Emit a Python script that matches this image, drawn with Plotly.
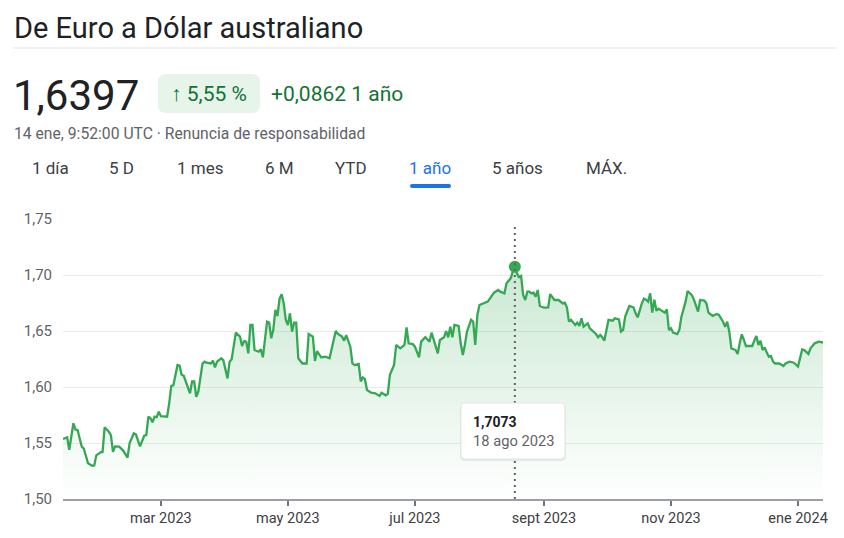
import plotly.graph_objects as go

# EUR -> AUD, one year of closes
dates = [
    "2023-01-13", "2023-01-15", "2023-01-16", "2023-01-18", "2023-01-19", "2023-01-20",
    "2023-01-22", "2023-01-23", "2023-01-25", "2023-01-27", "2023-01-28", "2023-01-29",
    "2023-01-31", "2023-02-01", "2023-02-02", "2023-02-04", "2023-02-05", "2023-02-06",
    "2023-02-07", "2023-02-09", "2023-02-11", "2023-02-13", "2023-02-14", "2023-02-16",
    "2023-02-17", "2023-02-19", "2023-02-21", "2023-02-22", "2023-02-23", "2023-02-24",
    "2023-02-25", "2023-02-26", "2023-02-27", "2023-02-28", "2023-03-01", "2023-03-04",
    "2023-03-05", "2023-03-06", "2023-03-07", "2023-03-09", "2023-03-10", "2023-03-11",
    "2023-03-12", "2023-03-13", "2023-03-15", "2023-03-16", "2023-03-17", "2023-03-18",
    "2023-03-19", "2023-03-21", "2023-03-22", "2023-03-23", "2023-03-25", "2023-03-26",
    "2023-03-27", "2023-03-28", "2023-03-30", "2023-03-31", "2023-04-02", "2023-04-03",
    "2023-04-04", "2023-04-06", "2023-04-08", "2023-04-09", "2023-04-10", "2023-04-11",
    "2023-04-12", "2023-04-13", "2023-04-14", "2023-04-15", "2023-04-17", "2023-04-18",
    "2023-04-19", "2023-04-21", "2023-04-22", "2023-04-23", "2023-04-24", "2023-04-25",
    "2023-04-26", "2023-04-27", "2023-04-28", "2023-04-29", "2023-04-30", "2023-05-01",
    "2023-05-02", "2023-05-03", "2023-05-04", "2023-05-05", "2023-05-06", "2023-05-08",
    "2023-05-10", "2023-05-11", "2023-05-13", "2023-05-14", "2023-05-15", "2023-05-17",
    "2023-05-19", "2023-05-21", "2023-05-22", "2023-05-24", "2023-05-25", "2023-05-27",
    "2023-05-28", "2023-05-29", "2023-05-31", "2023-06-01", "2023-06-02", "2023-06-04",
    "2023-06-05", "2023-06-06", "2023-06-07", "2023-06-08", "2023-06-10", "2023-06-12",
    "2023-06-14", "2023-06-15", "2023-06-17", "2023-06-18", "2023-06-19", "2023-06-21",
    "2023-06-22", "2023-06-24", "2023-06-26", "2023-06-27", "2023-06-28", "2023-06-30",
    "2023-07-01", "2023-07-03", "2023-07-04", "2023-07-06", "2023-07-08", "2023-07-09",
    "2023-07-10", "2023-07-12", "2023-07-13", "2023-07-15", "2023-07-16", "2023-07-17",
    "2023-07-18", "2023-07-19", "2023-07-20", "2023-07-22", "2023-07-23", "2023-07-24",
    "2023-07-25", "2023-07-26", "2023-07-28", "2023-07-29", "2023-07-30", "2023-07-31",
    "2023-08-01", "2023-08-03", "2023-08-05", "2023-08-08", "2023-08-10", "2023-08-11",
    "2023-08-13", "2023-08-14", "2023-08-16", "2023-08-17", "2023-08-18", "2023-08-19",
    "2023-08-20", "2023-08-21", "2023-08-22", "2023-08-23", "2023-08-24", "2023-08-25",
    "2023-08-26", "2023-08-27", "2023-08-28", "2023-08-29", "2023-08-30", "2023-09-01",
    "2023-09-03", "2023-09-04", "2023-09-05", "2023-09-06", "2023-09-08", "2023-09-10",
    "2023-09-11", "2023-09-12", "2023-09-13", "2023-09-14", "2023-09-16", "2023-09-17",
    "2023-09-18", "2023-09-19", "2023-09-20", "2023-09-22", "2023-09-23", "2023-09-24",
    "2023-09-26", "2023-09-27", "2023-09-28", "2023-09-29", "2023-09-30", "2023-10-01",
    "2023-10-02", "2023-10-04", "2023-10-05", "2023-10-07", "2023-10-08", "2023-10-09",
    "2023-10-10", "2023-10-12", "2023-10-14", "2023-10-15", "2023-10-16", "2023-10-18",
    "2023-10-19", "2023-10-20", "2023-10-21", "2023-10-22", "2023-10-23", "2023-10-24",
    "2023-10-25", "2023-10-26", "2023-10-28", "2023-10-29", "2023-10-30", "2023-10-31",
    "2023-11-01", "2023-11-02", "2023-11-04", "2023-11-05", "2023-11-06", "2023-11-08",
    "2023-11-09", "2023-11-11", "2023-11-12", "2023-11-14", "2023-11-15", "2023-11-17",
    "2023-11-18", "2023-11-19", "2023-11-21", "2023-11-23", "2023-11-24", "2023-11-26",
    "2023-11-27", "2023-11-28", "2023-11-29", "2023-11-30", "2023-12-02", "2023-12-03",
    "2023-12-04", "2023-12-05", "2023-12-06", "2023-12-07", "2023-12-08", "2023-12-10",
    "2023-12-11", "2023-12-12", "2023-12-13", "2023-12-14", "2023-12-15", "2023-12-16",
    "2023-12-17", "2023-12-18", "2023-12-19", "2023-12-20", "2023-12-21", "2023-12-23",
    "2023-12-25", "2023-12-26", "2023-12-28", "2023-12-30", "2024-01-01", "2024-01-02",
    "2024-01-03", "2024-01-04", "2024-01-06", "2024-01-07", "2024-01-09", "2024-01-11",
    "2024-01-13",
]
rates = [
    1.5536, 1.5550, 1.5440, 1.5676, 1.5620, 1.5616,
    1.5467, 1.5450, 1.5320, 1.5297, 1.5300, 1.5390,
    1.5417, 1.5420, 1.5640, 1.5600, 1.5570, 1.5420,
    1.5470, 1.5467, 1.5430, 1.5370, 1.5500, 1.5587,
    1.5577, 1.5470, 1.5565, 1.5570, 1.5735, 1.5720,
    1.5685, 1.5735, 1.5730, 1.5780, 1.5740, 1.5735,
    1.5854, 1.6010, 1.6015, 1.6196, 1.6190, 1.6110,
    1.6100, 1.6050, 1.5943, 1.6050, 1.6050, 1.5913,
    1.5960, 1.6210, 1.6226, 1.6217, 1.6210, 1.6235,
    1.6176, 1.6226, 1.6256, 1.6240, 1.6077, 1.6226,
    1.6247, 1.6485, 1.6450, 1.6366, 1.6410, 1.6405,
    1.6300, 1.6554, 1.6554, 1.6330, 1.6315, 1.6336,
    1.6265, 1.6583, 1.6575, 1.6435, 1.6510, 1.6688,
    1.6634, 1.6790, 1.6828, 1.6747, 1.6600, 1.6554,
    1.6658, 1.6494, 1.6575, 1.6575, 1.6256, 1.6210,
    1.6210, 1.6473, 1.6450, 1.6232, 1.6320, 1.6265,
    1.6270, 1.6256, 1.6330, 1.6500, 1.6473, 1.6450,
    1.6414, 1.6464, 1.6360, 1.6210, 1.6196, 1.6205,
    1.6050, 1.6085, 1.6070, 1.5973, 1.5949, 1.5943,
    1.5920, 1.5949, 1.5926, 1.5938, 1.6110, 1.6196,
    1.6375, 1.6345, 1.6375, 1.6533, 1.6390, 1.6384,
    1.6360, 1.6265, 1.6405, 1.6444, 1.6405, 1.6485,
    1.6426, 1.6300, 1.6420, 1.6444, 1.6500, 1.6444,
    1.6538, 1.6444, 1.6554, 1.6545, 1.6390, 1.6286,
    1.6375, 1.6494, 1.6600, 1.6583, 1.6375, 1.6643,
    1.6732, 1.6747, 1.6762, 1.6842, 1.6866, 1.6851,
    1.6836, 1.6926, 1.6970, 1.7030, 1.7073, 1.7015,
    1.6980, 1.6991, 1.6821, 1.6777, 1.6851, 1.6851,
    1.6836, 1.6842, 1.6806, 1.6866, 1.6723, 1.6708,
    1.6711, 1.6830, 1.6806, 1.6777, 1.6777, 1.6747,
    1.6753, 1.6711, 1.6583, 1.6600, 1.6554, 1.6575,
    1.6545, 1.6613, 1.6538, 1.6569, 1.6524, 1.6509,
    1.6473, 1.6444, 1.6464, 1.6444, 1.6414, 1.6509,
    1.6600, 1.6592, 1.6613, 1.6604, 1.6494, 1.6509,
    1.6628, 1.6723, 1.6711, 1.6658, 1.6622, 1.6747,
    1.6790, 1.6780, 1.6762, 1.6836, 1.6664, 1.6780,
    1.6681, 1.6700, 1.6681, 1.6664, 1.6694, 1.6509,
    1.6524, 1.6485, 1.6473, 1.6509, 1.6628, 1.6762,
    1.6857, 1.6821, 1.6780, 1.6673, 1.6777, 1.6771,
    1.6747, 1.6664, 1.6634, 1.6652, 1.6643, 1.6583,
    1.6538, 1.6583, 1.6494, 1.6345, 1.6330, 1.6295,
    1.6390, 1.6470, 1.6420, 1.6366, 1.6366, 1.6366,
    1.6414, 1.6455, 1.6375, 1.6414, 1.6330, 1.6354,
    1.6307, 1.6270, 1.6277, 1.6226, 1.6210, 1.6210,
    1.6188, 1.6210, 1.6226, 1.6217, 1.6182, 1.6270,
    1.6336, 1.6330, 1.6295, 1.6345, 1.6390, 1.6405,
    1.6397,
]

tick_dates = ["2023-03-01", "2023-05-01", "2023-07-01", "2023-09-01", "2023-11-01", "2024-01-01"]
tick_text = ["mar 2023", "may 2023", "jul 2023", "sept 2023", "nov 2023", "ene 2024"]
y_ticks = [1.50, 1.55, 1.60, 1.65, 1.70, 1.75]

highlight_date = "2023-08-18"
highlight_value = rates[dates.index(highlight_date)]

tabs = ["1 día", "5 D", "1 mes", "6 M", "YTD", "1 año", "5 años", "MÁX."]
tab_x = [33, 110, 178, 266, 336, 410, 493, 587]

GREEN = "#34a853"
DARK_GREEN = "#137333"
TEXT = "#202124"
GREY = "#5f6368"
FONT = "Roboto, Arial, sans-serif"

# the page body has an 8px margin, so the figure is drawn at (8, 8)
OFF = 8
W, H = 844 - OFF, 538 - OFF
# plot area in page pixels: x 63..823, y 219..499
L, T = 63 - OFF, 219 - OFF
R, B = W - (823 - OFF), H - (499 - OFF)
PW, PH = W - L - R, H - T - B


def px(x):
    # page pixel -> paper x
    return (x - OFF - L) / PW


def py(y):
    # page pixel -> paper y
    return (H - B - (y - OFF)) / PH


def rounded_box(x0, y0, x1, y1, r):
    pts = [
        f"M{px(x0 + r)},{py(y0)}", f"L{px(x1 - r)},{py(y0)}",
        f"Q{px(x1)},{py(y0)} {px(x1)},{py(y0 + r)}", f"L{px(x1)},{py(y1 - r)}",
        f"Q{px(x1)},{py(y1)} {px(x1 - r)},{py(y1)}", f"L{px(x0 + r)},{py(y1)}",
        f"Q{px(x0)},{py(y1)} {px(x0)},{py(y1 - r)}", f"L{px(x0)},{py(y0 + r)}",
        f"Q{px(x0)},{py(y0)} {px(x0 + r)},{py(y0)}", "Z",
    ]
    return " ".join(pts)


fig = go.Figure()

fig.add_trace(go.Scatter(
    x=dates, y=rates, mode="lines",
    line=dict(color=GREEN, width=2.3),
    fill="tozeroy",
    fillgradient=dict(type="vertical", start=1.5, stop=1.71,
                      colorscale=[[0, "rgba(52,168,83,0)"], [1, "rgba(52,168,83,0.26)"]]),
    hoverinfo="skip", showlegend=False,
))
fig.add_trace(go.Scatter(
    x=[highlight_date], y=[highlight_value], mode="markers",
    marker=dict(color=GREEN, size=12),
    hoverinfo="skip", showlegend=False,
))

shapes = [
    # header rule
    dict(type="line", xref="paper", yref="paper", x0=px(13), x1=px(844), y0=py(48), y1=py(48),
         line=dict(color="#e3e3e3", width=1)),
    # change badge
    dict(type="path", xref="paper", yref="paper", path=rounded_box(158, 74, 260, 113, 8),
         fillcolor="#e6f4ea", line=dict(width=0)),
    # active tab underline
    dict(type="path", xref="paper", yref="paper", path=rounded_box(410, 184, 451, 188, 2),
         fillcolor="#1a73e8", line=dict(width=0)),
    # crosshair
    dict(type="line", xref="x", yref="y", x0=highlight_date, x1=highlight_date, y0=1.5, y1=1.745,
         line=dict(color=GREY, width=2, dash="2px,4px"), layer="above"),
    # tooltip shadow + box
    dict(type="path", xref="paper", yref="paper", path=rounded_box(460, 404, 566, 461, 5),
         fillcolor="rgba(0,0,0,0.07)", line=dict(width=0), layer="above"),
    dict(type="path", xref="paper", yref="paper", path=rounded_box(461, 403, 565, 459, 4),
         fillcolor="white", line=dict(color="#e6e6e6", width=1), layer="above"),
]

annotations = [
    # title box sits right at the figure's top edge so nothing gets clipped
    dict(text="De Euro a Dólar australiano", x=px(12), y=py(8.5), yanchor="top",
         font=dict(size=29, color=TEXT)),
    dict(text="1,6397", x=px(11), y=py(95), font=dict(size=42, color=TEXT)),
    dict(text="↑ 5,55 %", x=px(209), y=py(94), xanchor="center", font=dict(size=21, color=DARK_GREEN)),
    dict(text="+0,0862 1 año", x=px(269), y=py(94), font=dict(size=21, color=DARK_GREEN)),
    dict(text="14 ene, 9:52:00 UTC · Renuncia de responsabilidad", x=px(12), y=py(133),
         font=dict(size=15.7, color=GREY)),
    dict(text="1,7073", x=px(471), y=py(422), font=dict(size=14, color=TEXT, weight="bold")),
    dict(text="18 ago 2023", x=px(471), y=py(441), font=dict(size=14.7, color=GREY)),
]
for label, x in zip(tabs, tab_x):
    color = "#1a73e8" if label == "1 año" else "#3c4043"
    annotations.append(dict(text=label, x=px(x - 3), y=py(168), font=dict(size=17, color=color)))
for a in annotations:
    a.update(xref="paper", yref="paper", xanchor=a.get("xanchor", "left"),
             yanchor=a.get("yanchor", "middle"), showarrow=False)
    a["font"].setdefault("family", FONT)

fig.update_layout(
    width=W, height=H,
    margin=dict(l=L, r=R, t=T, b=B),
    paper_bgcolor="white", plot_bgcolor="white",
    separators=",.",
    font=dict(family=FONT, color=GREY, size=14),
    shapes=shapes, annotations=annotations,
    xaxis=dict(
        type="date", range=["2023-01-13", "2024-01-13"],
        tickvals=tick_dates, ticktext=tick_text,
        showgrid=False, zeroline=False,
        showline=True, linecolor="#9aa0a6", linewidth=2,
        ticks="outside", ticklen=5, tickwidth=2, tickcolor="#70757a",
        tickfont=dict(size=14.5, color="#3c4043"),
    ),
    yaxis=dict(
        range=[1.5, 1.75], tickvals=y_ticks, tickformat=".2f",
        showgrid=True, gridcolor="#ebebeb", gridwidth=1, zeroline=False,
        showline=False, ticks="", ticklabelstandoff=10,
        tickfont=dict(size=15, color="#5f6368"),
    ),
)

fig.write_html("out.html", config={"displayModeBar": False})
